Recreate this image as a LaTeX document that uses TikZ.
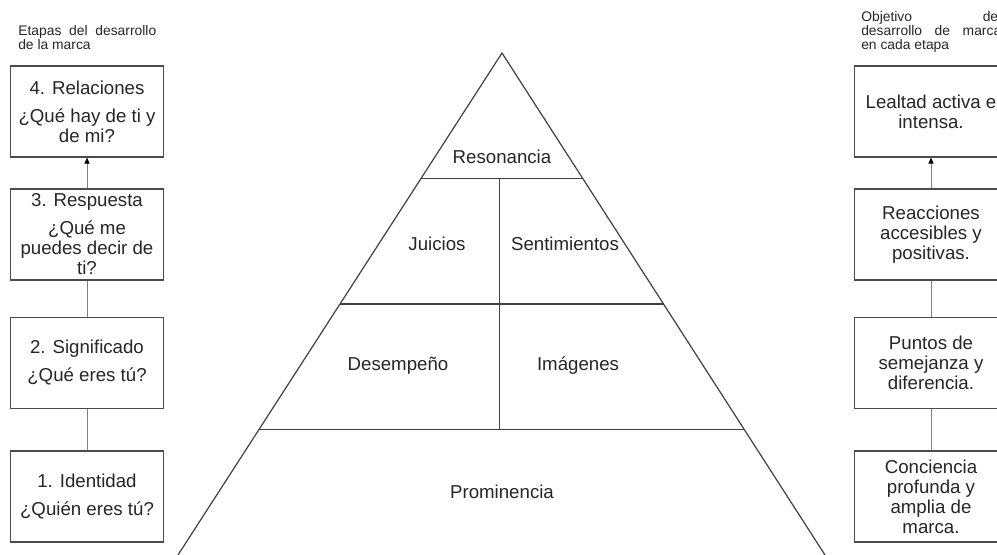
\documentclass[tikz,border=0pt]{standalone}
\usepackage{fontspec}
\setmainfont{Liberation Sans}
\usetikzlibrary{arrows.meta,calc}
\begin{document}
\begin{tikzpicture}[x=0.75pt,y=-0.75pt,
        every node/.style={text=black!85,font=\fontsize{14}{15}\selectfont},
        etapa/.style={draw=black!70,line width=0.8pt,minimum width=114.75pt,minimum height=68.25pt,align=center,inner sep=0pt},
        encabezado/.style={anchor=north west,inner sep=0pt,align=justify,font=\fontsize{10.4}{10.6}\selectfont},
        enlace/.style={draw=black!50,line width=0.7pt},
        piramide/.style={draw=black!75,line width=0.9pt}]
    \useasboundingbox (0,0) rectangle (997,555);
    \clip (0,0) rectangle (997,555);
    % etapas
    \node [encabezado,text width=103.5pt] (etapas) at (18,25) {Etapas del desarrollo\linebreak de la marca};
    \node [etapa] (e4) at (87,111.5) {4. Relaciones\\[6pt]¿Qué hay de ti y\\de mi?};
    \node [etapa] (e3) at (87,234.5) {3. Respuesta\\[6pt]¿Qué me\\puedes decir de\\ti?};
    \node [etapa] (e2) at (87,363) {2. Significado\\[6pt]¿Qué eres tú?};
    \node [etapa] (e1) at (87,496.5) {1. Identidad\\[6pt]¿Quién eres tú?};
    \draw [enlace,-{Triangle[length=4.5pt,width=3.75pt,color=black]}] (e3) -- (e4);
    \draw [enlace] (e2) -- (e3);
    \draw [enlace] (e1) -- (e2);
    % objetivos
    \node [encabezado,text width=105pt] (objetivo) at (861,11) {Objetivo del\linebreak desarrollo de marca\linebreak en cada etapa};
    \node [etapa] (o4) at (931,111.5) {Lealtad activa e\\intensa.};
    \node [etapa] (o3) at (931,234.5) {Reacciones\\accesibles y\\positivas.};
    \node [etapa] (o2) at (931,363) {Puntos de\\semejanza y\\diferencia.};
    \node [etapa] (o1) at (931,496.5) {Conciencia\\profunda y\\amplia de\\marca.};
    \draw [enlace,-{Triangle[length=4.5pt,width=3.75pt,color=black]}] (o3) -- (o4);
    \draw [enlace] (o2) -- (o3);
    \draw [enlace] (o1) -- (o2);
    % piramide
    \coordinate (cima) at (502,53);
    \coordinate (baseizq) at (178,555);
    \coordinate (baseder) at (825,555);
    \draw [piramide] (baseizq) -- (cima) -- (baseder);
    \foreach \t in {0.25,0.5,0.75}
        \draw [piramide] ($(cima)!\t!(baseizq)$) -- ($(cima)!\t!(baseder)$);
    \coordinate (divarriba) at (499,178);
    \coordinate (divabajo) at (499,430);
    \draw [piramide,line width=0.7pt] (divarriba) -- (divabajo);
    \node (resonancia) at (502,157) {Resonancia};
    \node (juicios) at (437,244) {Juicios};
    \node (sentimientos) at (565,244) {Sentimientos};
    \node (desempeno) at (398,366) {Desempeño};
    \node (imagenes) at (578,366) {Imágenes};
    \node (prominencia) at (502,492) {Prominencia};
\end{tikzpicture}
\end{document}
